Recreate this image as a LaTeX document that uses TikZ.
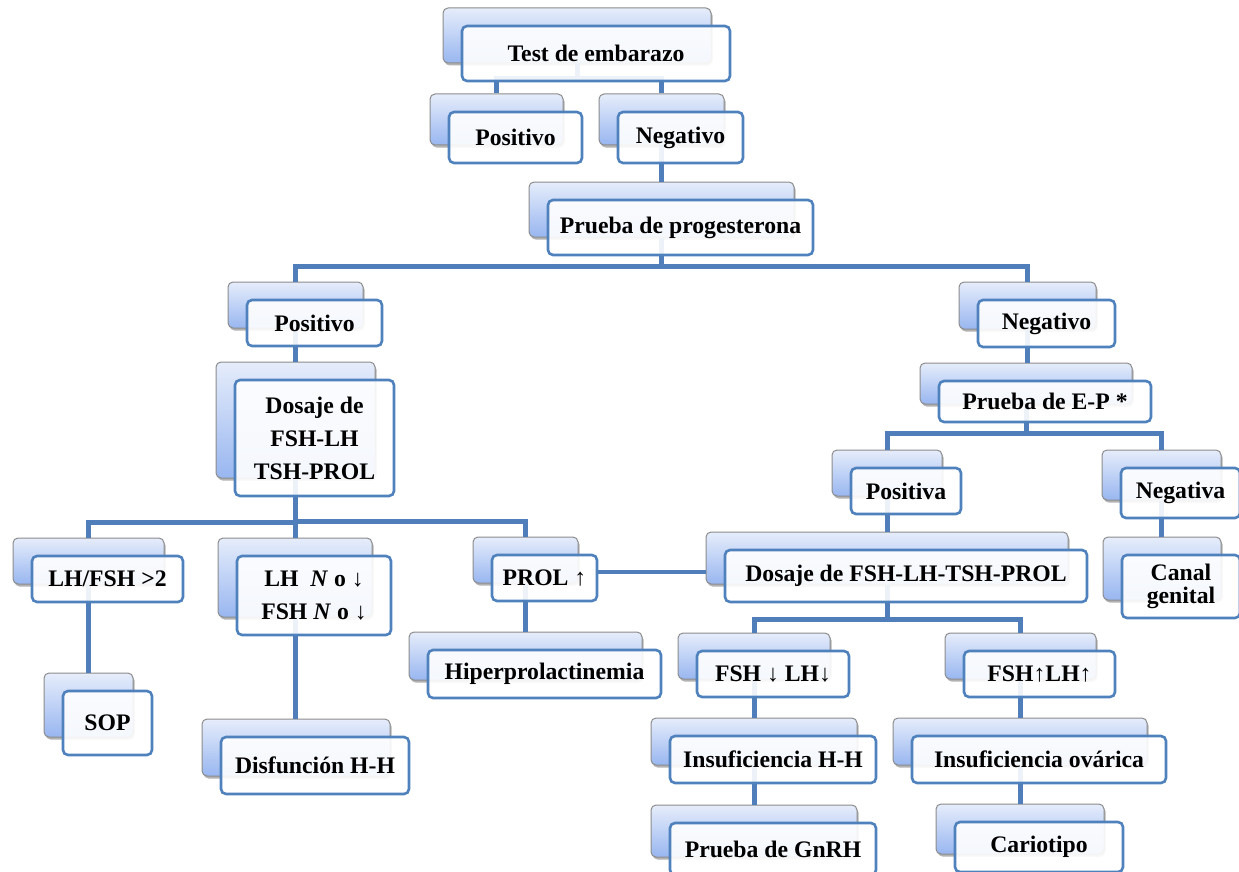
\documentclass[tikz,border=0pt]{standalone}
\usepackage{fontspec}
\setmainfont{Liberation Serif}
\usetikzlibrary{shadows}

\pgfdeclarelayer{boxback}
\pgfdeclarelayer{links}
\pgfsetlayers{boxback,links,main}

\definecolor{linkblue}{RGB}{79,126,186}
\definecolor{frameblue}{RGB}{79,129,189}
\definecolor{shadetop}{RGB}{230,237,251}
\definecolor{shadebot}{RGB}{152,182,240}
\definecolor{backframe}{RGB}{140,140,140}

\tikzset{
  backbox/.style={rectangle, rounded corners=5pt, draw=backframe, line width=1pt,
    top color=shadetop, bottom color=shadebot, inner sep=0pt,
    drop shadow={shadow xshift=1.5pt, shadow yshift=-2.5pt, opacity=0.3, fill=black}},
  frontbox/.style={rectangle, rounded corners=5pt, draw=frameblue, line width=2.6pt,
    fill=white, fill opacity=0.9, text opacity=1, inner sep=0pt, align=center,
    font=\fontsize{23.7}{33}\selectfont\bfseries},
  link/.style={draw=linkblue, line width=5pt},
  sidelink/.style={draw=linkblue, line width=4pt},
}

% #1 name, #2-#5 corners of the shaded back card, #6 label of the front card
\newcommand\stagebox[6]{%
  \pgfmathsetmacro\bw{#4-#2}\pgfmathsetmacro\bh{#5-#3}%
  \pgfmathsetmacro\cx{(#2+#4)/2}\pgfmathsetmacro\cy{(#3+#5)/2}%
  \begin{pgfonlayer}{boxback}
    \node[backbox, minimum width=\bw pt, minimum height=\bh pt] (#1b) at (\cx,\cy) {};
  \end{pgfonlayer}
  \node[frontbox, minimum width=\bw pt, minimum height=\bh pt] (#1) at (\cx+19,\cy+18) {#6};
}

\begin{document}
\begin{tikzpicture}[x=1pt,y=-1pt]
\useasboundingbox (0,0) rectangle (1239,872);

\stagebox{test}{443}{8}{711}{63}{Test de embarazo}
\stagebox{posA}{430}{94}{563}{145}{Positivo}
\stagebox{negA}{599}{94}{724}{145}{Negativo}
\stagebox{prog}{529}{182}{794}{237}{Prueba de progesterona}
\stagebox{posB}{228}{282}{363}{328}{Positivo}
\stagebox{negB}{959}{282}{1096}{329}{Negativo}
\stagebox{dosA}{216}{362}{375}{478}{Dosaje de\\FSH-LH\\TSH-PROL}
\stagebox{ep}{920}{363}{1132}{404}{Prueba de E-P *}
\stagebox{posC}{832}{450}{942}{496}{Positiva}
\stagebox{negC}{1102}{450}{1221}{500}{Negativa}
\stagebox{canal}{1103}{537}{1221}{600}{Canal\\[-10pt]genital}
\stagebox{dosB}{706}{532}{1068}{584}{Dosaje de FSH-LH-TSH-PROL}
\stagebox{ratio}{13}{538}{164}{584}{LH/FSH >2}
\stagebox{lhn}{218}{538}{372}{617}{LH\ \ \textit{N} o ↓\\FSH \textit{N} o ↓}
\stagebox{prol}{473}{537}{578}{583}{PROL ↑}
\stagebox{sop}{44}{673}{133}{737}{SOP}
\stagebox{disf}{202}{719}{390}{776}{Disfunción H-H}
\stagebox{hiper}{409}{632}{642}{680}{Hiperprolactinemia}
\stagebox{fshd}{678}{633}{830}{679}{FSH ↓ LH↓}
\stagebox{fshu}{945}{633}{1096}{679}{FSH↑LH↑}
\stagebox{insh}{651}{718}{857}{765}{Insuficiencia H-H}
\stagebox{inso}{893}{718}{1147}{765}{Insuficiencia ovárica}
\stagebox{gnrh}{651}{805}{857}{857}{Prueba de GnRH}
\stagebox{cario}{936}{804}{1104}{854}{Cariotipo}

\begin{pgfonlayer}{links}
  \draw[link] (testb.south) |- ([yshift=15pt]posAb.north) -- (posAb.north);
  \draw[link] (testb.south) |- ([yshift=15pt]negAb.north) -- (negAb.north);
  \draw[link] (negAb.south) -- (negAb.south |- progb.north);
  \draw[link] (progb.south) |- ([yshift=15pt]posBb.north) -- (posBb.north);
  \draw[link] (progb.south) |- ([yshift=15pt]negBb.north) -- (negBb.north);
  \draw[link] (posBb.south) -- (posBb.south |- dosAb.north);
  \draw[link] (negBb.south) -- (negBb.south |- epb.north);
  \draw[link] (epb.south) |- ([yshift=16pt]posCb.north) -- (posCb.north);
  \draw[link] (epb.south) |- ([yshift=16pt]negCb.north) -- (negCb.north);
  \draw[link] (negCb.south) -- (negCb.south |- canalb.north);
  \draw[link] (posCb.south) -- (posCb.south |- dosBb.north);
  \draw[link] (dosAb.south) |- ([yshift=15pt]ratiob.north) -- (ratiob.north);
  \draw[link] (dosAb.south) |- ([yshift=15pt]lhnb.north) -- (lhnb.north);
  \draw[link] (dosAb.south) |- ([yshift=15pt]prolb.north) -- (prolb.north);
  \draw[link] (ratiob.south) -- (ratiob.south |- sopb.north);
  \draw[link] (lhnb.south) -- (lhnb.south |- disfb.north);
  \draw[link] (prolb.south) -- (prolb.south |- hiperb.north);
  \draw[link] (dosBb.south) |- ([yshift=13pt]fshdb.north) -- (fshdb.north);
  \draw[link] (dosBb.south) |- ([yshift=13pt]fshub.north) -- (fshub.north);
  \draw[link] (fshdb.south) -- (fshdb.south |- inshb.north);
  \draw[link] (inshb.south) -- (inshb.south |- gnrhb.north);
  \draw[link] (fshub.south) -- (fshub.south |- insob.north);
  \draw[link] (insob.south) -- (insob.south |- cariob.north);
  \draw[sidelink] ([yshift=6pt]prol.east) -- ([yshift=6pt]prol.east -| dosBb.west);
\end{pgfonlayer}
\end{tikzpicture}
\end{document}
